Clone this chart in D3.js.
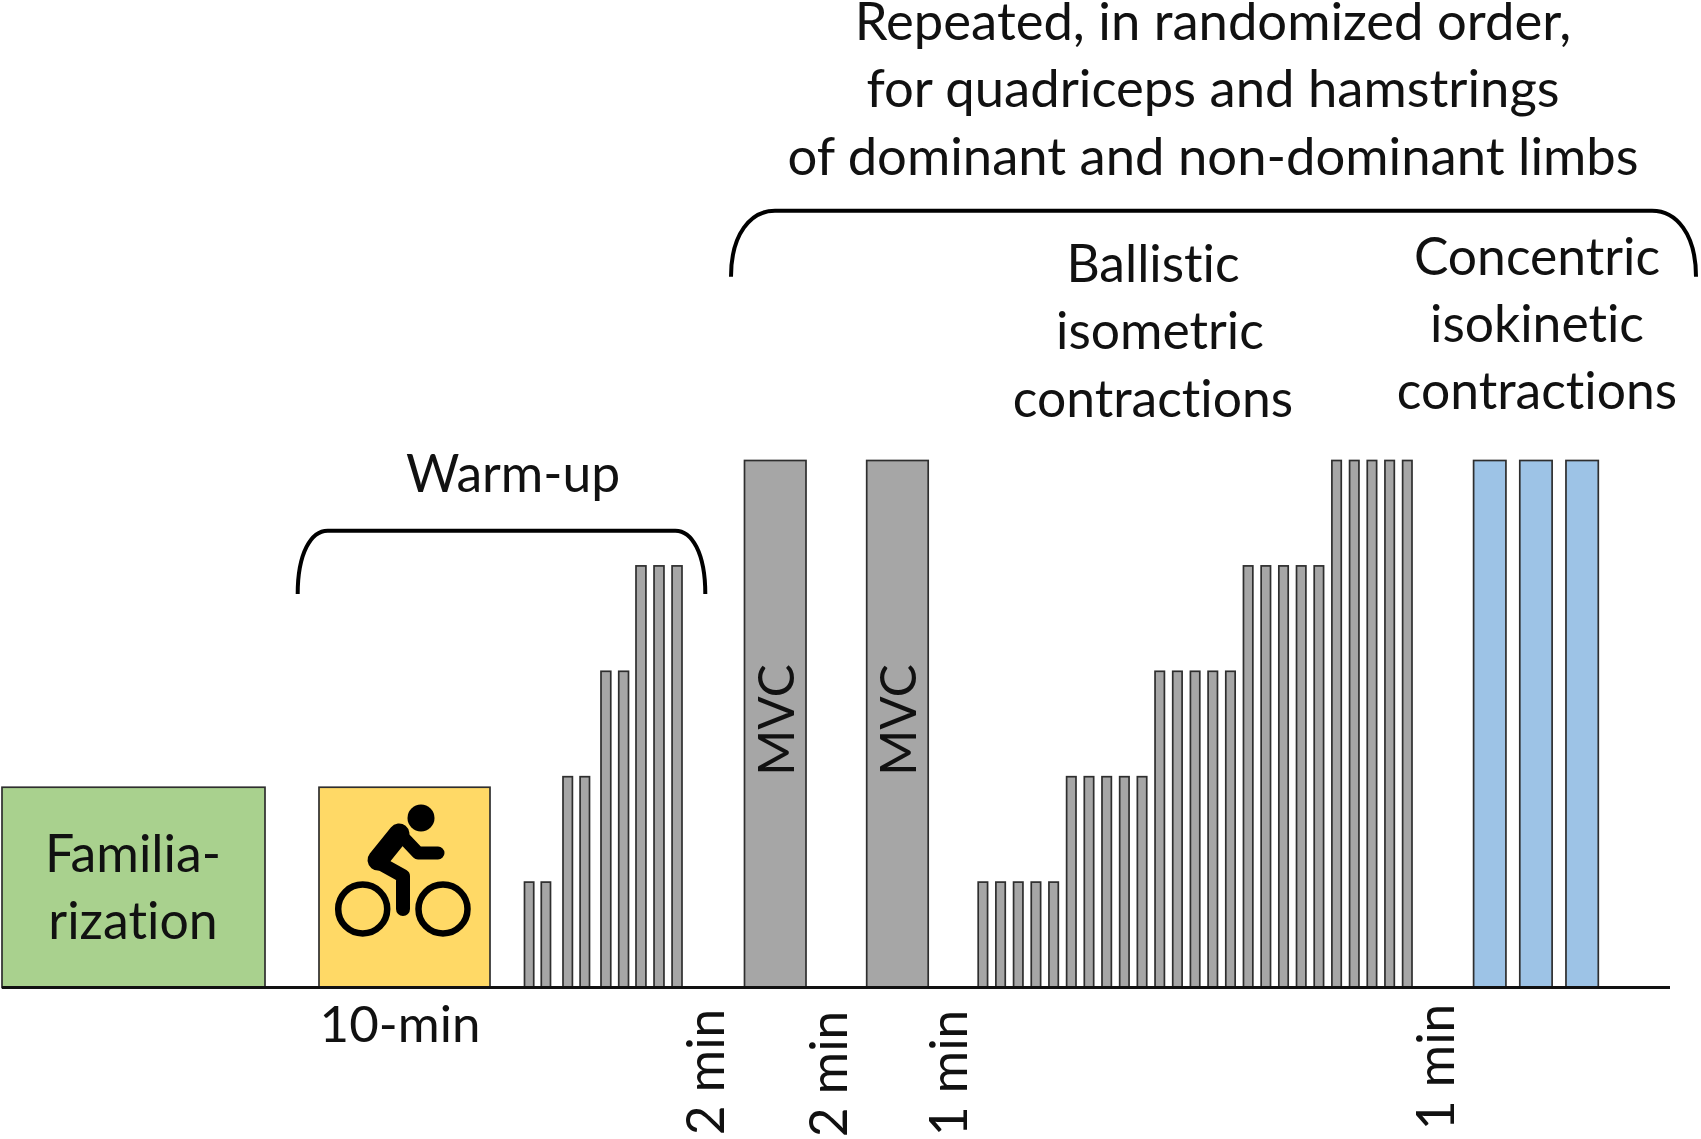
<!DOCTYPE html>
<html><head><meta charset="utf-8">
<script src="https://cdn.jsdelivr.net/npm/d3@7/dist/d3.min.js"></script>
<style>html,body{margin:0;padding:0;background:#fff}svg{display:block}text{font-family:Lato,sans-serif;fill:#111;font-variant-ligatures:none}</style>
</head><body><script>
// Data
const warmupLevels = [1, 2, 3, 4];
const warmupReps = [2, 2, 2, 3];
const ballisticLevels = [1, 2, 3, 4, 5];
const ballisticReps = [5, 5, 5, 5, 5];
const mvcLevels = [5, 5];
const isokineticLevels = [5, 5, 5];
const preBlockLevel = 1.9;
const restLabels = ["2 min", "2 min", "1 min", "1 min"];
const headerLines = ["Repeated, in randomized order,", "for quadriceps and hamstrings", "of dominant and non-dominant limbs"];
const ballisticLines = ["Ballistic", "isometric", "contractions"];
const concentricLines = ["Concentric", "isokinetic", "contractions"];
const familiarizationLines = ["Familia-", "rization"];

const W = 1701, H = 1139, base = 987.5;
const svg = d3.select("body").append("svg").attr("width", W).attr("height", H);
const y = d3.scaleLinear().domain([0, 5]).range([base, 460.5]);
const gray = "#a6a6a6", edge = "#2e2e2e";

function bar(x0, x1, lvl, fill) {
  svg.append("rect").attr("x", x0).attr("y", y(lvl)).attr("width", x1 - x0).attr("height", base - y(lvl))
    .attr("fill", fill).attr("stroke", edge).attr("stroke-width", 1.7);
}
function label(t, x, yy, size, anchor) {
  return svg.append("text").attr("x", x).attr("y", yy).attr("font-size", size)
    .attr("text-anchor", anchor || "middle").text(t);
}
function rot(t, x, yy, size) {
  return svg.append("text").attr("transform", `translate(${x},${yy}) rotate(-90)`)
    .attr("font-size", size).attr("text-anchor", "middle").text(t);
}

// Pre-blocks
bar(2, 265, preBlockLevel, "#a9d18e");
bar(319, 490, preBlockLevel, "#ffd966");

// Warm-up: each stage has its own band
const warmupSpans = [[524.5, 550.5], [563, 589.5], [601, 628.5], [636, 682]];
warmupLevels.forEach((lvl, s) => {
  const band = d3.scaleBand().domain(d3.range(warmupReps[s])).range(warmupSpans[s]).paddingInner(0.45);
  d3.range(warmupReps[s]).forEach(i => bar(band(i), band(i) + band.bandwidth(), lvl, gray));
});

// MVC
const mvcX = d3.scalePoint().domain(d3.range(mvcLevels.length)).range([744.5, 866.7]);
mvcLevels.forEach((lvl, i) => bar(mvcX(i), mvcX(i) + 61.5, lvl, gray));

// Ballistic
const ballisticSeq = ballisticLevels.flatMap((l, s) => d3.range(ballisticReps[s]).map(() => l));
const bx = d3.scaleBand().domain(d3.range(ballisticSeq.length)).range([978.2, 1412]).paddingInner(0.47);
ballisticSeq.forEach((lvl, i) => bar(bx(i), bx(i) + bx.bandwidth(), lvl, gray));

// Isokinetic
const ix = d3.scaleBand().domain(d3.range(isokineticLevels.length)).range([1473.6, 1598.3]).paddingInner(0.3);
isokineticLevels.forEach((lvl, i) => bar(ix(i), ix(i) + ix.bandwidth(), lvl, "#9dc3e6"));

// Baseline
svg.append("line").attr("x1", 2).attr("x2", 1670).attr("y1", base).attr("y2", base).attr("stroke", "#111").attr("stroke-width", 3);

// Brackets
function bracket(xl, xr, top, bot, r) {
  svg.append("path").attr("fill", "none").attr("stroke", "#000").attr("stroke-width", 4)
    .attr("d", `M${xl},${bot} C${xl},${top + (bot - top) * 0.35} ${xl + r * 0.45},${top} ${xl + r},${top} L${xr - r},${top} C${xr - r * 0.45},${top} ${xr},${top + (bot - top) * 0.35} ${xr},${bot}`);
}
bracket(297.7, 705.3, 530.7, 594, 30);
bracket(731, 1696, 210.7, 276.7, 44);

// Bike icon
const bike = svg.append("g");
bike.append("ellipse").attr("cx", 421).attr("cy", 818).attr("rx", 13.5).attr("ry", 13.5).attr("fill", "#000");
[362.7, 443].forEach(cx => bike.append("circle").attr("cx", cx).attr("cy", 909).attr("r", 24.5).attr("fill", "none").attr("stroke", "#000").attr("stroke-width", 6.5));
const stroke = (d, w) => bike.append("path").attr("d", d).attr("fill", "none").attr("stroke", "#000").attr("stroke-width", w).attr("stroke-linecap", "round").attr("stroke-linejoin", "round");
stroke("M399,834 L378,860", 21);
stroke("M399,833 L418,853 L438,853", 13);
stroke("M376,861 L403,876 L403,909", 14);

// Text
const fs = 51.6;
headerLines.forEach((t, i) => label(t, 1213, 40 + i * 67.3, 52.6));
[1153, 1160, 1153].forEach((x, i) => label(ballisticLines[i], x, 282 + i * 67.3, fs));
concentricLines.forEach((t, i) => label(t, 1537, 274.5 + i * 67.3, fs));
label("Warm-up", 513, 492, fs);
familiarizationLines.forEach((t, i) => label(t, 133, 872 + i * 67, 51.8));
label("10-min", 400, 1041.7, 51);
mvcLevels.forEach((_, i) => rot("MVC", i ? 915.8 : 794, 720, 49.5));
[[724, 1072], [847, 1074], [967, 1073], [1453.6, 1067]].forEach((p, i) => rot(restLabels[i], p[0], p[1], 51.5));
</script></body></html>
